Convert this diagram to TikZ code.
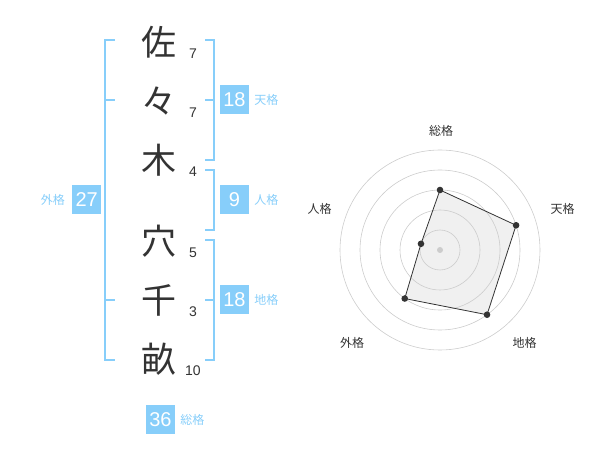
\documentclass[tikz,border=0pt]{standalone}
\usepackage{fontspec}
\setmainfont{Liberation Sans}
\newfontfamily\jp{Noto Sans CJK JP}
\usepackage{tikz}
\usetikzlibrary{positioning}
\definecolor{skyblue}{HTML}{87CEFA}
\definecolor{ink}{HTML}{333333}
\definecolor{ringgray}{HTML}{CCCCCC}
\definecolor{areagray}{HTML}{F0F0F0}

\begin{document}
\begin{tikzpicture}[x=1pt,y=-1pt,
    kanji/.style={font=\jp\fontsize{35}{35}\selectfont, text=ink, inner sep=0pt},
    strokes/.style={font=\fontsize{14}{14}\selectfont, text=ink, inner sep=0pt},
    numbox/.style={fill=skyblue, text=white, minimum size=29pt, inner sep=0pt,
                   font=\fontsize{20}{20}\selectfont},
    kaku/.style={text=skyblue, font=\jp\fontsize{12}{12}\selectfont, inner sep=0pt},
    axislabel/.style={text=ink, font=\jp\fontsize{12}{12}\selectfont, inner sep=0pt},
    bracket/.style={draw=skyblue, line width=2pt, line join=miter},
    ring/.style={draw=ringgray, line width=0.6pt},
    poly/.style={draw=ink, line width=0.8pt}]
  \useasboundingbox (0,0) rectangle (600,470);

  % name and stroke counts
  \foreach \ch/\st/\y [count=\i] in {佐/7/42, 々/7/101, 木/4/160, 穴/5/241, 千/3/300, 畝/10/359} {
    \node[kanji] (c\i) at (159,\y) {\ch};
    \node[strokes] (s\i) at (193,\y+12) {\st};
  }

  % brackets
  \draw[bracket] (115,40) -- (105,40) -- (105,360) -- (115,360);
  \draw[bracket] (105,100) -- (115,100) (105,300) -- (115,300);
  \draw[bracket] (205,40) -- (214,40) -- (214,160) -- (205,160);
  \draw[bracket] (205,100) -- (214,100);
  \draw[bracket] (205,170) -- (214,170) -- (214,230) -- (205,230);
  \draw[bracket] (205,240) -- (214,240) -- (214,360) -- (205,360);
  \draw[bracket] (205,300) -- (214,300);

  % grids
  \node[numbox] (ten) at (234.5,100) {18};
  \node[kaku, right=5pt of ten] (tenlabel) {天格};
  \node[numbox] (jin) at (234.5,200) {9};
  \node[kaku, right=5pt of jin] (jinlabel) {人格};
  \node[numbox] (chi) at (234.5,300) {18};
  \node[kaku, right=5pt of chi] (chilabel) {地格};
  \node[numbox] (gai) at (86.7,200) {27};
  \node[kaku, left=7pt of gai] (gailabel) {外格};
  \node[numbox] (sou) at (160.5,419.5) {36};
  \node[kaku, right=5pt of sou] (soulabel) {総格};

  % radar chart
  \begin{scope}[shift={(440,250)}, yscale=-1]
    \coordinate (p1) at (90:60);
    \coordinate (p2) at (18:80);
    \coordinate (p3) at (-54:80);
    \coordinate (p4) at (-126:60);
    \coordinate (p5) at (162:20);
    \fill[areagray] (p1) -- (p2) -- (p3) -- (p4) -- (p5) -- cycle;
    \foreach \r in {20,40,...,100}
      \draw[ring] (0,0) circle (\r pt);
    \fill[ringgray] (0,0) circle (3pt);
    \draw[poly] (p1) -- (p2) -- (p3) -- (p4) -- (p5) -- cycle;
    \foreach \i in {1,...,5}
      \fill[ink] (p\i) circle (3.3pt);
  \end{scope}
  \node[axislabel] (asou) at (441,131) {総格};
  \node[axislabel] (aten) at (562.5,208.5) {天格};
  \node[axislabel] (achi) at (524.5,342.5) {地格};
  \node[axislabel] (agai) at (352,342.5) {外格};
  \node[axislabel] (ajin) at (319.5,208.5) {人格};
\end{tikzpicture}
\end{document}
